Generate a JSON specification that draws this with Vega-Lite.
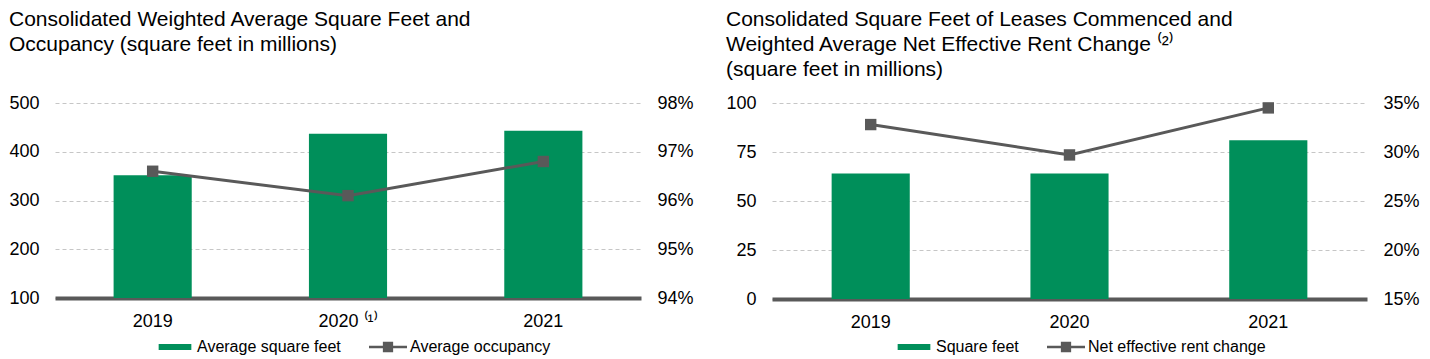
{
  "$schema": "https://vega.github.io/schema/vega-lite/v6.json",
  "background": "white",
  "padding": {"left": 8, "top": 9, "right": 4, "bottom": 0},
  "bounds": "flush",
  "spacing": 131,
  "config": {
    "font": "Liberation Sans",
    "view": {"stroke": null},
    "title": {"fontSize": 21, "fontWeight": "normal", "anchor": "start", "frame": "bounds", "color": "#000000", "lineHeight": 25, "font": "Liberation Sans"},
    "axis": {"labelFont": "Liberation Sans", "labelColor": "#000000", "labelFontSize": 18, "ticks": false, "title": null},
    "legend": {"labelFont": "Liberation Sans", "labelFontSize": 16, "labelColor": "#000000", "padding": 0, "labelLimit": 400}
  },
  "hconcat": [
    {
      "width": 586,
      "height": 195,
      "title": {"text": ["Consolidated Weighted Average Square Feet and", "Occupancy (square feet in millions)"], "offset": 39},
      "data": {"values": [
        {"year": "2019", "sqft": 352, "occ": 0.966},
        {"year": "2020", "sqft": 437, "occ": 0.961},
        {"year": "2021", "sqft": 443, "occ": 0.968}
      ]},
      "encoding": {
        "x": {"field": "year", "type": "ordinal", "sort": null,
          "scale": {"paddingInner": 0.6, "paddingOuter": 0.3},
          "axis": {"labelAngle": 0, "labelPadding": 14, "domain": true, "domainColor": "#595959", "domainWidth": 4, "grid": false,
            "labelExpr": "datum.value == '2020' ? '2020 ⁽¹⁾' : datum.value"}}
      },
      "layer": [
        {
          "mark": {"type": "bar"},
          "encoding": {
            "y": {"field": "sqft", "type": "quantitative", "scale": {"domain": [100, 500], "zero": false, "nice": false},
              "axis": {"values": [100, 200, 300, 400, 500], "domain": false, "labelPadding": 16, "grid": true, "gridColor": "#c6c6c6", "gridDash": [4, 3], "gridWidth": 1}},
            "y2": {"datum": 100},
            "color": {"datum": "Average square feet", "type": "nominal",
              "scale": {"domain": ["Average square feet", "Average occupancy"], "range": ["#008F5A", "#595959"]},
              "legend": {"title": null, "orient": "none", "direction": "horizontal", "legendX": 101, "legendY": 225,
                "symbolSize": 1444, "labelOffset": 3, "columnPadding": 28,
                "encode": {"symbols": {"update": {
                  "shape": {"signal": "datum.value == 'Average square feet' ? 'M-0.86,-0.16H0.86V0.16H-0.86Z' : 'M-1,-0.07H1V0.07H-1Z M-0.27,-0.27H0.27V0.27H-0.27Z'"},
                  "fill": {"signal": "datum.value == 'Average square feet' ? '#008F5A' : '#595959'"},
                  "stroke": {"value": null}, "strokeWidth": {"value": 0}, "opacity": {"value": 1}, "fillOpacity": {"value": 1}}}}}}
          }
        },
        {
          "mark": {"type": "line", "strokeWidth": 3, "point": {"shape": "square", "size": 130, "filled": true, "opacity": 1}},
          "encoding": {
            "y": {"field": "occ", "type": "quantitative", "scale": {"domain": [0.94, 0.98], "zero": false, "nice": false},
              "axis": {"orient": "right", "values": [0.94, 0.95, 0.96, 0.97, 0.98], "format": ".0%", "domain": false, "labelPadding": 16, "grid": false}},
            "color": {"datum": "Average occupancy", "type": "nominal"}
          }
        }
      ],
      "resolve": {"scale": {"y": "independent"}}
    },
    {
      "width": 595,
      "height": 196,
      "title": {"text": ["Consolidated Square Feet of Leases Commenced and", "Weighted Average Net Effective Rent Change ⁽²⁾", "(square feet in millions)"], "offset": 14},
      "data": {"values": [
        {"year": "2019", "sqft": 64, "rent": 0.328},
        {"year": "2020", "sqft": 64, "rent": 0.297},
        {"year": "2021", "sqft": 81, "rent": 0.345}
      ]},
      "encoding": {
        "x": {"field": "year", "type": "ordinal", "sort": null,
          "scale": {"paddingInner": 0.607, "paddingOuter": 0.3},
          "axis": {"labelAngle": 0, "labelPadding": 14, "domain": true, "domainColor": "#595959", "domainWidth": 4, "grid": false}}
      },
      "layer": [
        {
          "mark": {"type": "bar"},
          "encoding": {
            "y": {"field": "sqft", "type": "quantitative", "scale": {"domain": [0, 100], "nice": false},
              "axis": {"values": [0, 25, 50, 75, 100], "domain": false, "labelPadding": 16, "grid": true, "gridColor": "#c6c6c6", "gridDash": [4, 3], "gridWidth": 1}},
            "color": {"datum": "Square feet", "type": "nominal",
              "scale": {"domain": ["Square feet", "Net effective rent change"], "range": ["#008F5A", "#595959"]},
              "legend": {"title": null, "orient": "none", "direction": "horizontal", "legendX": 123, "legendY": 225,
                "symbolSize": 1444, "labelOffset": 3, "columnPadding": 28,
                "encode": {"symbols": {"update": {
                  "shape": {"signal": "datum.value == 'Square feet' ? 'M-0.86,-0.16H0.86V0.16H-0.86Z' : 'M-1,-0.07H1V0.07H-1Z M-0.27,-0.27H0.27V0.27H-0.27Z'"},
                  "fill": {"signal": "datum.value == 'Square feet' ? '#008F5A' : '#595959'"},
                  "stroke": {"value": null}, "strokeWidth": {"value": 0}, "opacity": {"value": 1}, "fillOpacity": {"value": 1}}}}}}
          }
        },
        {
          "mark": {"type": "line", "strokeWidth": 3, "point": {"shape": "square", "size": 130, "filled": true, "opacity": 1}},
          "encoding": {
            "y": {"field": "rent", "type": "quantitative", "scale": {"domain": [0.15, 0.35], "zero": false, "nice": false},
              "axis": {"orient": "right", "values": [0.15, 0.2, 0.25, 0.3, 0.35], "format": ".0%", "domain": false, "labelPadding": 16, "grid": false}},
            "color": {"datum": "Net effective rent change", "type": "nominal"}
          }
        }
      ],
      "resolve": {"scale": {"y": "independent"}}
    }
  ],
  "resolve": {"scale": {"color": "independent"}, "legend": {"color": "independent"}}
}
